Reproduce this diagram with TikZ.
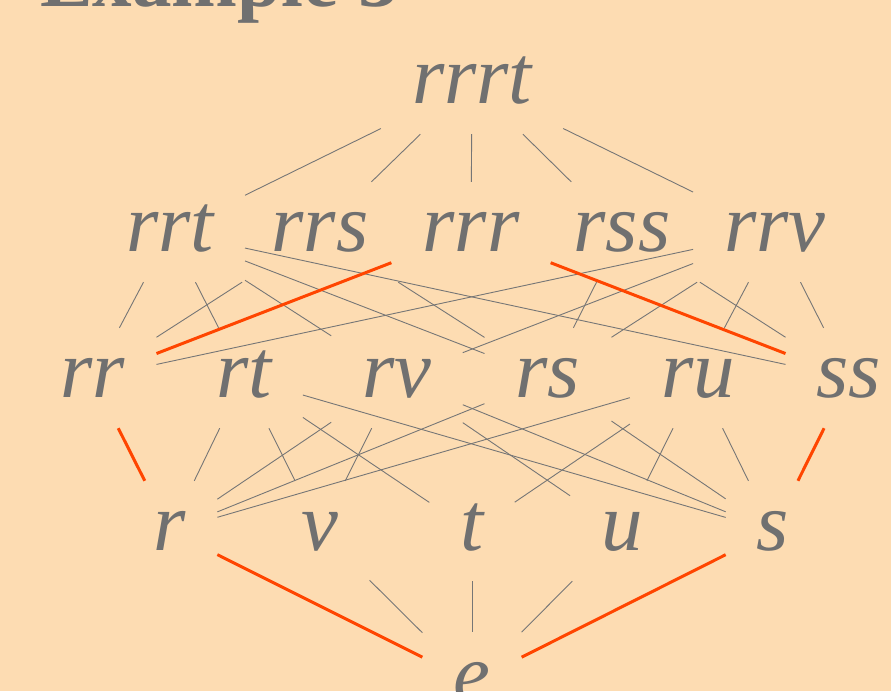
\documentclass[tikz,border=0pt]{standalone}
\usepackage{fontspec}
\setmainfont{Liberation Serif}
\definecolor{bgc}{RGB}{253,220,178}
\definecolor{txt}{RGB}{112,112,112}
\definecolor{lgray}{RGB}{118,118,118}
\definecolor{hred}{RGB}{255,69,0}
\begin{document}
\begin{tikzpicture}[x=1pt,y=-1pt,
  w/.style={draw=none, text=txt, font=\itshape\fontsize{83}{90}\selectfont,
    text height=38pt, text depth=0pt, inner xsep=31pt, inner ysep=31pt, anchor=center},
  ln/.style={draw=lgray, line width=0.9pt},
  hl/.style={draw=hred, line width=3pt},
  ttl/.style={text=txt, font=\bfseries\fontsize{79}{80}\selectfont, inner sep=0pt, anchor=base west}]
\useasboundingbox (0,0) rectangle (891,691);
\fill[bgc] (0,0) rectangle (891,691);
\node[ttl] (title) at (40,6) {Example 3};
% rows
\node[w] (rrrt) at (472,84) {rrrt};
\node[w] (rrt) at (170,232) {rrt};
\node[w] (rrs) at (320,232) {rrs};
\node[w] (rrr) at (471,232) {rrr};
\node[w] (rss) at (622,232) {rss};
\node[w] (rrv) at (775,232) {rrv};
\node[w] (rr) at (93,378) {rr};
\node[w] (rt) at (244,378) {rt};
\node[w] (rv) at (397,378) {rv};
\node[w] (rs) at (548,378) {rs};
\node[w] (ru) at (698,378) {ru};
\node[w] (ss) at (849,378) {ss};
\node[w] (r) at (170,531) {r};
\node[w] (v) at (320,531) {v};
\node[w] (t) at (472,531) {t};
\node[w] (u) at (622,531) {u};
\node[w] (s) at (773,531) {s};
\node[w] (e) at (472,682) {e};
% gray edges
\foreach \a/\b in {rrrt/rrt, rrrt/rrs, rrrt/rrr, rrrt/rss, rrrt/rrv,
  rrt/rr, rrt/rt, rrt/rv, rrt/rs, rrt/ss,
  rrs/rr, rrs/rs,
  rss/rs, rss/ss,
  rrv/rr, rrv/rv, rrv/rs, rrv/ru, rrv/ss,
  rt/r, rt/v, rt/t, rt/s,
  rv/r, rv/v, rv/u, rv/s,
  rs/r, rs/s,
  ru/r, ru/u, ru/t, ru/s,
  v/e, t/e, u/e}
  \draw[ln] (\a) -- (\b);
% red edges
\foreach \a/\b in {rrr/rr, rrr/ss, rr/r, ss/s, r/e, s/e}
  \draw[hl] (\a) -- (\b);
\end{tikzpicture}
\end{document}
